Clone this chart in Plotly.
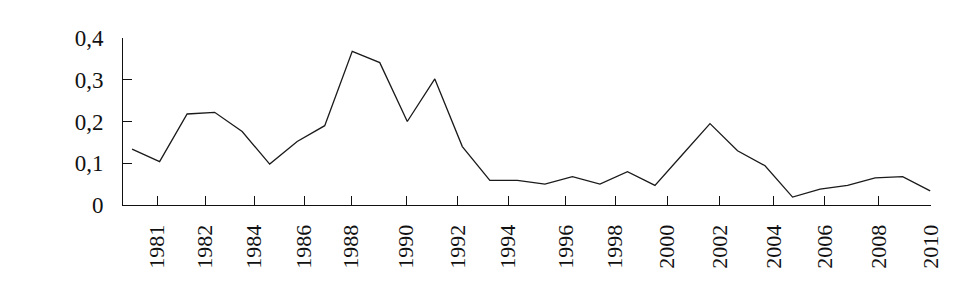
import plotly.graph_objects as go

years = list(range(1981, 2011))
values = [0.134, 0.104, 0.218, 0.222, 0.176, 0.098, 0.152, 0.190, 0.368, 0.341,
          0.200, 0.302, 0.140, 0.059, 0.059, 0.050, 0.068, 0.050, 0.080, 0.047,
          0.121, 0.195, 0.130, 0.094, 0.019, 0.038, 0.047, 0.065, 0.068, 0.034]

# x tick labels and where they sit (in year units)
x_tick_text = ["1981", "1982", "1984", "1986", "1988", "1990", "1992", "1994",
               "1996", "1998", "2000", "2002", "2004", "2006", "2008", "2010"]
x_tick_pos = [1981.91, 1983.65, 1985.44, 1987.25, 1988.96, 1990.96, 1992.82, 1994.67,
              1996.75, 1998.56, 2000.45, 2002.35, 2004.31, 2006.16, 2008.13, 2010.03]

y_tick_vals = [0, 0.1, 0.2, 0.3, 0.4]
y_tick_text = ["0", "0,1", "0,2", "0,3", "0,4"]

fig = go.Figure()
fig.add_trace(go.Scatter(
    x=years, y=values, mode="lines",
    line=dict(color="#1a1a1a", width=1.3),
    hoverinfo="x+y", showlegend=False,
))

xfont = dict(family="Liberation Serif", size=22, color="#111111")
yfont = dict(family="Liberation Serif", size=23, color="#111111")

fig.update_layout(
    width=970, height=288,
    margin=dict(l=115, r=47, t=30, b=91),
    paper_bgcolor="white", plot_bgcolor="white",
    font=xfont,
    xaxis=dict(
        range=[1980.67, 2010.03],
        tickvals=x_tick_pos, ticktext=x_tick_text,
        tickangle=-90,
        ticks="inside", ticklen=9, tickwidth=1, tickcolor="#111111",
        showline=True, linecolor="#111111", linewidth=1,
        showgrid=False, zeroline=False,
        ticklabelstandoff=10,
        tickfont=xfont,
    ),
    yaxis=dict(
        range=[0, 0.4],
        tickvals=y_tick_vals, ticktext=y_tick_text,
        ticks="inside", ticklen=9, tickwidth=1, tickcolor="#111111",
        showline=True, linecolor="#111111", linewidth=1,
        showgrid=False, zeroline=False,
        ticklabelstandoff=14,
        tickfont=yfont,
    ),
)

fig.write_html("out.html")
